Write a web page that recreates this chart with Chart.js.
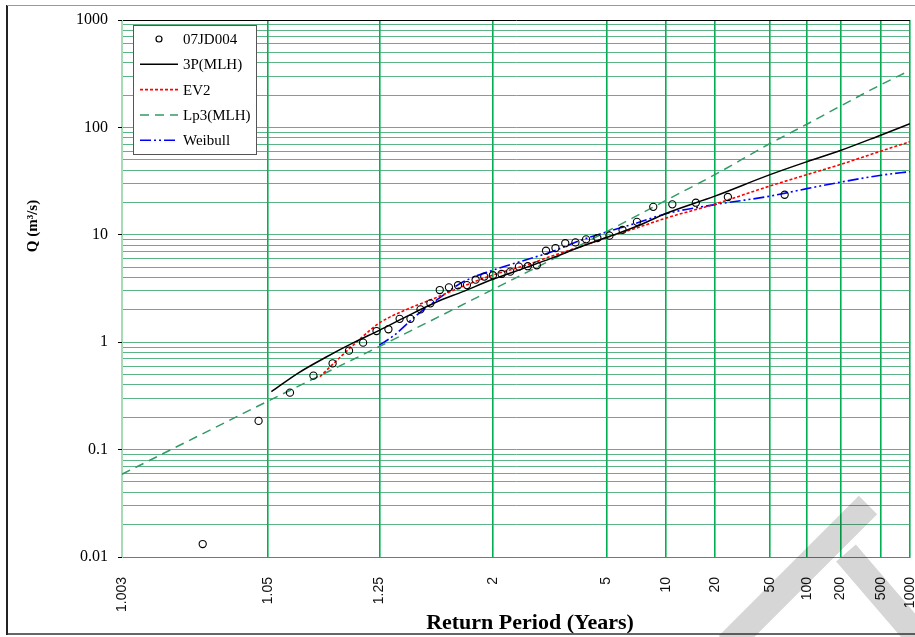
<!DOCTYPE html>
<html>
<head>
<meta charset="utf-8">
<title>07JD004 - Frequency Analysis</title>
<script src="https://cdn.jsdelivr.net/npm/chart.js@4.4.1/dist/chart.umd.min.js"></script>
<style>
  html, body { margin: 0; padding: 0; background: #fff; }
  #wrap { width: 915px; height: 637px; position: relative; }
</style>
</head>
<body>
<div id="wrap"><canvas id="freq-chart" width="915" height="637"></canvas></div>
<script>
// Return periods shown on the probability axis
const RETURN_TICKS = [1.003, 1.05, 1.25, 2, 5, 10, 20, 50, 100, 200, 500, 1000];
const RETURN_LABELS = ['1.003', '1.05', '1.25', '2', '5', '10', '20', '50', '100', '200', '500', '1000'];
const Q_DECADES = [0.01, 0.1, 1, 10, 100, 1000];
const Q_LABELS = ['0.01', '0.1', '1', '10', '100', '1000'];

// Station 07JD004 annual peaks (return period, flow m3/s)
const obsT = [1.016, 1.043, 1.071, 1.101, 1.133, 1.167, 1.202, 1.241, 1.281, 1.324,
              1.371, 1.420, 1.474, 1.531, 1.593, 1.661, 1.735, 1.815, 1.903, 2.0,
              2.108, 2.227, 2.361, 2.513, 2.685, 2.882, 3.111, 3.379, 3.698, 4.083,
              4.558, 5.158, 5.939, 7.0, 8.522, 10.89, 15.08, 24.5, 65.33];
const obsQ = [0.0132, 0.185, 0.339, 0.488, 0.635, 0.834, 0.99, 1.27, 1.32, 1.65,
              1.65, 2.02, 2.30, 3.06, 3.24, 3.39, 3.40, 3.82, 4.08, 4.20,
              4.32, 4.54, 5.05, 5.10, 5.20, 7.11, 7.53, 8.35, 8.50, 9.07,
              9.33, 9.82, 11.1, 13.2, 18.2, 19.2, 19.9, 22.5, 23.6];

// Fitted distributions
const p3T = [1.053, 1.08, 1.12, 1.18, 1.25, 1.35, 1.5, 1.7, 2, 2.5, 3, 4, 5, 7, 10, 20, 50, 100, 200, 500, 1000];
const p3Q = [0.346, 0.513, 0.72, 1.0, 1.29, 1.72, 2.33, 2.96, 3.85, 5.0, 6.03, 7.94, 9.44, 12.0, 15.8, 22.9, 36.3, 47.9, 61.0, 85.1, 108];

const ev2T = [1.111, 1.15, 1.2, 1.25, 1.35, 1.5, 1.7, 2, 2.5, 3, 4, 5, 7, 10, 20, 50, 100, 200, 500, 1000];
const ev2Q = [0.478, 0.74, 1.12, 1.51, 2.0, 2.57, 3.31, 4.22, 5.25, 6.3, 7.94, 9.44, 11.6, 14.3, 19.3, 28.5, 36.3, 45.2, 60.3, 73.6];

const lp3T = [1.003, 1.05, 1.25, 2, 5, 10, 20, 50, 100, 200, 500, 1000];
const lp3Q = [0.059, 0.282, 0.912, 3.1, 10.7, 20.9, 36.3, 70.8, 107, 158, 251, 339];

const weiT = [1.25, 1.3, 1.4, 1.5, 1.7, 2, 2.5, 3, 4, 5, 7, 10, 20, 50, 100, 200, 500, 1000];
const weiQ = [0.94, 1.15, 1.78, 2.4, 3.63, 4.68, 5.89, 6.92, 9.12, 10.6, 12.9, 15.7, 19.1, 22.9, 26.9, 30.9, 35.9, 38.7];

// inverse standard normal (Acklam)
function normInv(p) {
  const a = [-3.969683028665376e+01, 2.209460984245205e+02, -2.759285104469687e+02, 1.383577518672690e+02, -3.066479806614716e+01, 2.506628277459239e+00];
  const b = [-5.447609879822406e+01, 1.615858368580409e+02, -1.556989798598866e+02, 6.680131188771972e+01, -1.328068155288572e+01];
  const c = [-7.784894002430293e-03, -3.223964580411365e-01, -2.400758277161838e+00, -2.549671750064101e+00, 4.374664141464968e+00, 2.938163982698783e+00];
  const d = [7.784695709041462e-03, 3.224671290700398e-01, 2.445134137142996e+00, 3.754408661907416e+00];
  const pl = 0.02425;
  let q, r;
  if (p < pl) {
    q = Math.sqrt(-2 * Math.log(p));
    return (((((c[0]*q+c[1])*q+c[2])*q+c[3])*q+c[4])*q+c[5]) / ((((d[0]*q+d[1])*q+d[2])*q+d[3])*q+1);
  }
  if (p > 1 - pl) {
    q = Math.sqrt(-2 * Math.log(1 - p));
    return -(((((c[0]*q+c[1])*q+c[2])*q+c[3])*q+c[4])*q+c[5]) / ((((d[0]*q+d[1])*q+d[2])*q+d[3])*q+1);
  }
  q = p - 0.5; r = q * q;
  return (((((a[0]*r+a[1])*r+a[2])*r+a[3])*r+a[4])*r+a[5])*q / (((((b[0]*r+b[1])*r+b[2])*r+b[3])*r+b[4])*r+1);
}

function normCdf(z) {
  // Abramowitz & Stegun 7.1.26
  const t = 1 / (1 + 0.3275911 * Math.abs(z) / Math.SQRT2);
  const y = 1 - (((((1.061405429*t - 1.453152027)*t) + 1.421413741)*t - 0.284496736)*t + 0.254829592)*t * Math.exp(-z*z/2);
  return z >= 0 ? (1 + y) / 2 : (1 - y) / 2;
}

// reduced variate for a return period
const zOf = T => normInv(1 - 1 / T);

// normal probability axis, values in return period
const LinearScale = Chart.LinearScale || Chart.scales.LinearScale;
class ProbabilityScale extends LinearScale {
  determineDataLimits() {
    this.min = this.options.min;
    this.max = this.options.max;
  }
  buildTicks() {
    return RETURN_TICKS.map(v => ({ value: v }));
  }
  configure() {
    super.configure();
    this._zMin = zOf(this.min);
    this._zMax = zOf(this.max);
  }
  getPixelForValue(v) {
    return this.getPixelForDecimal((zOf(v) - this._zMin) / (this._zMax - this._zMin));
  }
  getValueForPixel(p) {
    const z = this._zMin + this.getDecimalForPixel(p) * (this._zMax - this._zMin);
    return 1 / (1 - normCdf(z));
  }
}
ProbabilityScale.id = 'probability';
ProbabilityScale.defaults = {};
Chart.register(ProbabilityScale);

const pts = (xs, ys) => xs.map((x, i) => ({ x: x, y: ys[i] }));
const isDecade = v => Math.abs(Math.log10(v) - Math.round(Math.log10(v))) < 1e-9;

// all log grid values: 1..9 in each decade
const qGrid = [];
Q_DECADES.slice(0, -1).forEach(d => { for (let k = 1; k <= 9; k++) qGrid.push(+(k * d).toPrecision(3)); });
qGrid.push(1000);

// legend drawn inside the plot, top-left
const boxLegend = {
  id: 'boxLegend',
  afterDraw(chart) {
    const ctx = chart.ctx;
    const x0 = 133, y0 = 25, w = 123, h = 129;
    ctx.save();
    ctx.fillStyle = '#fff';
    ctx.fillRect(x0, y0, w, h);
    ctx.strokeStyle = '#555';
    ctx.lineWidth = 1;
    ctx.strokeRect(x0 + 0.5, y0 + 0.5, w, h);
    ctx.font = '15px "Liberation Serif", "Times New Roman", serif';
    ctx.textBaseline = 'middle';
    ctx.fillStyle = '#000';
    chart.data.datasets.forEach((ds, i) => {
      const y = y0 + 14 + i * 25.3;
      if (ds.showLine === false) {
        ctx.beginPath();
        ctx.strokeStyle = ds.borderColor;
        ctx.lineWidth = 1.2;
        ctx.setLineDash([]);
        ctx.arc(159, y, 3, 0, Math.PI * 2);
        ctx.stroke();
      } else {
        ctx.beginPath();
        ctx.strokeStyle = ds.borderColor;
        ctx.lineWidth = ds.borderWidth;
        ctx.setLineDash(ds.borderDash || []);
        ctx.moveTo(140, y);
        ctx.lineTo(178, y);
        ctx.stroke();
      }
      ctx.setLineDash([]);
      ctx.fillText(ds.label, 183, y + 1);
    });
    ctx.restore();
  }
};

// axis titles, grey stamp over the lower right corner and outer frame
const decorations = {
  id: 'decorations',
  afterDraw(chart) {
    const ctx = chart.ctx;
    ctx.save();
    ctx.fillStyle = '#000';
    ctx.textAlign = 'center';
    ctx.textBaseline = 'middle';
    ctx.font = 'bold 22px "Liberation Serif", "Times New Roman", serif';
    ctx.fillText('Return Period (Years)', 530, 623);
    ctx.translate(33, 226);
    ctx.rotate(-Math.PI / 2);
    ctx.font = 'bold 15px "Liberation Serif", "Times New Roman", serif';
    ctx.fillText('Q (m\u00B3/s)', 0, 0);
    ctx.restore();

    ctx.save();
    ctx.globalCompositeOperation = 'multiply';
    ctx.strokeStyle = '#d6d6d6';
    ctx.lineWidth = 26;
    ctx.lineCap = 'butt';
    ctx.beginPath();
    ctx.moveTo(868, 505); ctx.lineTo(728, 645);
    ctx.stroke();
    ctx.beginPath();
    ctx.moveTo(846, 553); ctx.lineTo(925, 645);
    ctx.stroke();
    ctx.restore();

    ctx.save();
    ctx.strokeStyle = '#222';
    ctx.lineWidth = 2;
    ctx.beginPath();
    ctx.moveTo(7, 5); ctx.lineTo(7, 635);
    ctx.stroke();
    ctx.lineWidth = 1;
    ctx.strokeStyle = '#999';
    ctx.beginPath();
    ctx.moveTo(7, 5.5); ctx.lineTo(915, 5.5);
    ctx.stroke();
    ctx.strokeStyle = '#333';
    ctx.lineWidth = 1.5;
    ctx.beginPath();
    ctx.moveTo(7, 634); ctx.lineTo(915, 634);
    ctx.stroke();
    ctx.restore();
  }
};

new Chart(document.getElementById('freq-chart'), {
  type: 'scatter',
  data: {
    datasets: [
      {
        label: '07JD004',
        data: pts(obsT, obsQ),
        showLine: false,
        pointRadius: 3.6,
        pointBorderWidth: 1.1,
        borderColor: '#000',
        backgroundColor: 'rgba(255,255,255,0)',
        order: 0
      },
      {
        label: '3P(MLH)',
        data: pts(p3T, p3Q),
        showLine: true,
        borderColor: '#000',
        borderWidth: 1.5,
        pointRadius: 0,
        cubicInterpolationMode: 'monotone'
      },
      {
        label: 'EV2',
        data: pts(ev2T, ev2Q),
        showLine: true,
        borderColor: '#ff0000',
        borderWidth: 1.6,
        borderDash: [3, 2],
        pointRadius: 0,
        cubicInterpolationMode: 'monotone'
      },
      {
        label: 'Lp3(MLH)',
        data: pts(lp3T, lp3Q),
        showLine: true,
        borderColor: '#339966',
        borderWidth: 1.5,
        borderDash: [9, 6],
        pointRadius: 0,
        cubicInterpolationMode: 'monotone'
      },
      {
        label: 'Weibull',
        data: pts(weiT, weiQ),
        showLine: true,
        borderColor: '#0000ff',
        borderWidth: 1.6,
        borderDash: [11, 3, 2, 3, 2, 3],
        pointRadius: 0,
        cubicInterpolationMode: 'monotone'
      }
    ]
  },
  options: {
    responsive: false,
    animation: false,
    layout: { padding: { left: 0, right: 3.5, top: 20, bottom: 0 } },
    plugins: {
      legend: { display: false },
      tooltip: { enabled: false }
    },
    scales: {
      x: {
        type: 'probability',
        min: 1.003,
        max: 1000,
        afterFit(s) { s.height = 80; s.paddingLeft = 0; s.paddingRight = 0; },
        border: { color: '#777', width: 1 },
        grid: {
          drawTicks: false,
          color: c => (c.index === 0 ? '#a6dbb8' : '#00b050'),
          lineWidth: 1.6
        },
        ticks: {
          autoSkip: false,
          minRotation: 90,
          maxRotation: 90,
          padding: 20,
          color: '#111',
          font: { family: '"Liberation Sans", Arial, sans-serif', size: 14 },
          callback: (v, i) => RETURN_LABELS[i]
        }
      },
      y: {
        type: 'logarithmic',
        min: 0.01,
        max: 1000,
        afterFit(s) { s.width = 122; s.paddingTop = 0; s.paddingBottom = 0; },
        afterBuildTicks(s) { s.ticks = qGrid.map(v => ({ value: v, major: isDecade(v) })); },
        border: { color: '#a6dbb8', width: 1 },
        grid: {
          tickLength: 4,
          color: c => {
            const v = c.tick ? c.tick.value : 0;
            if (v === 1000) return '#000';
            if (v === 0.01) return '#777';
            return 'rgba(51,160,102,0.8)';
          },
          tickColor: c => (c.tick && isDecade(c.tick.value) ? '#000' : 'rgba(0,0,0,0)'),
          lineWidth: 1
        },
        ticks: {
          autoSkip: false,
          padding: 10,
          color: '#000',
          font: { family: '"Liberation Serif", "Times New Roman", serif', size: 16 },
          callback: v => (isDecade(v) ? Q_LABELS[Q_DECADES.findIndex(d => Math.abs(d - v) < d * 1e-6)] : '')
        }
      }
    }
  },
  plugins: [boxLegend, decorations]
});
</script>
</body>
</html>
